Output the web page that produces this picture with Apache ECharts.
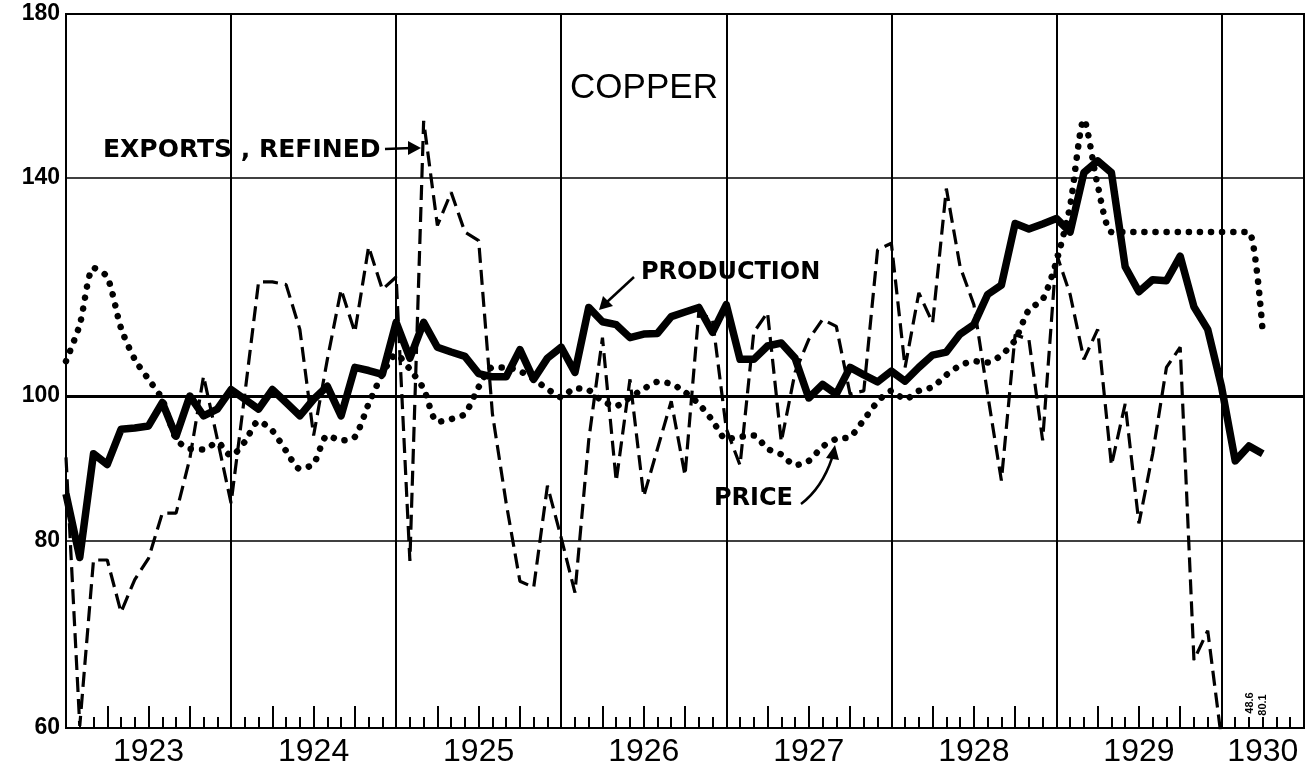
<!DOCTYPE html>
<html>
<head>
<meta charset="utf-8">
<title>Copper</title>
<script src="https://cdn.jsdelivr.net/npm/echarts@6/dist/echarts.min.js"></script>
<style>
  html, body { margin: 0; padding: 0; background: #fff; }
  #chart { width: 1314px; height: 768px; }
</style>
</head>
<body>
<div id="chart"></div>
<script>
// monthly slots, Jan 1923 .. Jul 1930 (the plot stops half way through 1930)
var years = [1923, 1924, 1925, 1926, 1927, 1928, 1929, 1930];
var months = [];
for (var y = 0; y < years.length; y++) {
  for (var m = 1; m <= 12; m++) {
    if (years[y] === 1930 && m > 7) break;
    months.push(years[y] + '-' + (m < 10 ? '0' + m : m));
  }
}

var yTicks = [60, 80, 100, 140, 180];

var production = [
  86, 78, 91.5, 90, 95, 95.2, 95.5, 99, 94, 100, 97, 98,
  101, 99.5, 98, 101, 99, 97, 99.5, 101.5, 97, 104.5, 104, 103.4,
  112, 106, 112, 107.8, 107, 106.3, 103.5, 103, 103, 107.4, 102.6, 106,
  107.8, 103.7, 114.6, 112.1, 111.6, 109.4, 110, 110.1, 113, 113.8, 114.6, 110.3,
  115.1, 105.8, 105.8, 108, 108.5, 106, 99.7, 101.8, 100.3, 104.5, 103.3, 102.2,
  103.9, 102.3, 104.5, 106.5, 107, 110, 111.6, 116.9, 118.6, 130.4, 129.3, 130.3,
  131.4, 128.7, 141, 143.6, 141, 122, 117.4, 119.6, 119.4, 124, 114.7, 110.8,
  101.5, 90.5, 92.6, 91.5
];

var exportsRefined = [
  91, 60.2, 77.7, 77.7, 71.7, 75.4, 77.9, 83.5, 83.5, 90.8, 103.1, 93.6,
  84.8, 100.3, 119.2, 119.2, 118.7, 110.8, 94.1, 105.8, 117.8, 110.3, 125.8, 117.8,
  120.1, 77.6, 152.7, 130, 136.8, 128.7, 127, 97.3, 84.8, 75.2, 74.5, 87.1,
  80.4, 73.9, 93.4, 109.4, 87.7, 102.6, 85.7, 92.2, 99.2, 88.5, 113.7, 112.5,
  95.1, 89.9, 110.3, 113.7, 93.2, 103.7, 109.1, 112.5, 111.3, 100.3, 100.8, 125.2,
  126.5, 104.5, 117.2, 111.9, 137.6, 122, 115.1, 100.3, 87.8, 109.9, 109.1, 93.4,
  124.5, 116.9, 105.8, 110.8, 89.9, 98.8, 82.2, 91.5, 104.5, 107.8, 66.6, 69.7,
  59
];

var price = [
  105.5, 111.6, 121.8, 120.1, 111, 105.8, 102.6, 99.5, 93.6, 92.2, 92.1, 93.1,
  91.2, 93.2, 96.2, 94.8, 91.9, 89.4, 90.1, 94.1, 93.4, 93.9, 98.8, 103.4,
  106.6, 104.2, 101.1, 96.1, 96.5, 97.3, 101.4, 104.5, 104.5, 103.9, 102.6, 101.1,
  99.8, 101.2, 100.9, 99.2, 98.5, 99.8, 101.1, 102.2, 101.9, 100.6, 98.8, 96.3,
  93.6, 93.9, 94.1, 92.2, 91.4, 89.9, 90.5, 92.5, 93.6, 93.9, 96.4, 99.1,
  100.8, 99.5, 100.8, 101.4, 103.3, 104.8, 105.5, 105.3, 106.5, 109, 114.2, 116,
  123, 134, 153, 138.3, 128.7, 128.7, 128.7, 128.7, 128.7, 128.7, 128.7, 128.7,
  128.7, 128.7, 128.7, 110.3
];

// off-scale notes printed at the foot of 1930
var footNotes = ['48.6', '80.1'];

var chart = echarts.init(document.getElementById('chart'));

var boldFont = '"DejaVu Sans", sans-serif';

var option = {
  backgroundColor: '#fff',
  animation: false,
  grid: {
    left: 66, right: 10, top: 14, bottom: 36,
    show: true, borderColor: '#000', borderWidth: 2
  },
  xAxis: [{
    type: 'category',
    data: months,
    boundaryGap: false,
    axisLine: { lineStyle: { color: '#000', width: 2 } },
    axisTick: {
      inside: true, length: 11, interval: 0,
      lineStyle: { color: '#000', width: 2 }
    },
    axisLabel: {
      interval: function (i) { return i % 12 === 6 || i === 87; },
      formatter: function (v) { return v.slice(0, 4); },
      color: '#000', fontSize: 32, fontFamily: '"Liberation Sans", Arial', margin: 8
    },
    splitLine: {
      show: true,
      interval: function (i) { return i % 12 === 0 && i > 0; },
      lineStyle: { color: '#000', width: 2 }
    }
  }, {
    type: 'category',
    data: months,
    boundaryGap: false,
    position: 'bottom',
    axisLine: { show: false },
    axisTick: {
      inside: true, length: 22,
      // 1930 quarter tick sits under the printed notes, keep it short there
      interval: function (i) { return i % 3 === 0 && i < 85; },
      lineStyle: { color: '#000', width: 2 }
    },
    axisLabel: { show: false },
    splitLine: { show: false }
  }],
  yAxis: {
    type: 'log',
    logBase: 10,
    min: 60,
    max: 180,
    axisLine: { show: false },
    axisTick: { show: false },
    axisLabel: { show: false },
    splitLine: { show: false }
  },
  series: [{
    name: 'grid',
    type: 'line',
    data: [],
    z: 1,
    markLine: {
      silent: true,
      symbol: ['none', 'none'],
      data: yTicks.map(function (v) {
        var edge = v === 60 || v === 180;
        return {
          yAxis: v,
          lineStyle: {
            color: edge ? 'rgba(0,0,0,0)' : '#000',
            type: 'solid',
            width: v === 100 ? 3 : 1.5
          }
        };
      }),
      label: {
        show: true,
        position: 'start',
        formatter: '{c}',
        color: '#000',
        fontSize: 23,
        fontWeight: 'bold',
        fontFamily: '"Liberation Sans", Arial',
        distance: 6
      }
    }
  }, {
    name: 'Exports, refined',
    type: 'line',
    data: exportsRefined,
    symbol: 'none',
    z: 3,
    lineStyle: { color: '#000', width: 3.2, type: [15, 7] }
  }, {
    name: 'Price',
    type: 'line',
    data: price,
    symbol: 'none',
    smooth: 0.25,
    z: 4,
    lineStyle: { color: '#000', width: 6.5, type: [0.1, 11], cap: 'round' }
  }, {
    name: 'Production',
    type: 'line',
    data: production,
    symbol: 'none',
    z: 5,
    lineStyle: { color: '#000', width: 7.5, join: 'round' }
  }],
  graphic: [
    {
      type: 'text', z: 10,
      style: { x: 644, y: 88, text: 'COPPER', textAlign: 'center', textVerticalAlign: 'middle',
        font: '35px "Liberation Sans", Arial', fill: '#000' }
    },
    {
      type: 'text', z: 10,
      style: { x: 103, y: 150, text: 'EXPORTS , REFINED', textAlign: 'left', textVerticalAlign: 'middle',
        font: 'bold 25px ' + boldFont, fill: '#000' }
    },
    {
      type: 'line', z: 10,
      shape: { x1: 385, y1: 149, x2: 412, y2: 148 },
      style: { stroke: '#000', lineWidth: 2.5 }
    },
    {
      type: 'polygon', z: 10,
      shape: { points: [[421, 148], [408, 141], [408, 155]] },
      style: { fill: '#000' }
    },
    {
      type: 'text', z: 10,
      style: { x: 641, y: 273, text: 'PRODUCTION', textAlign: 'left', textVerticalAlign: 'middle',
        font: 'bold 24px ' + boldFont, fill: '#000' }
    },
    {
      type: 'line', z: 10,
      shape: { x1: 634, y1: 277, x2: 607, y2: 302 },
      style: { stroke: '#000', lineWidth: 2.5 }
    },
    {
      type: 'polygon', z: 10,
      shape: { points: [[599, 310], [603, 296], [613, 306]] },
      style: { fill: '#000' }
    },
    {
      type: 'text', z: 10,
      style: { x: 714, y: 499, text: 'PRICE', textAlign: 'left', textVerticalAlign: 'middle',
        font: 'bold 24px ' + boldFont, fill: '#000' }
    },
    {
      type: 'bezierCurve', z: 10,
      shape: { x1: 801, y1: 504, cpx1: 822, cpy1: 488, x2: 832, y2: 458 },
      style: { stroke: '#000', lineWidth: 2.5, fill: 'none' }
    },
    {
      type: 'polygon', z: 10,
      shape: { points: [[835, 445], [826, 458], [839, 460]] },
      style: { fill: '#000' }
    },
    {
      type: 'text', z: 10, x: 1250, y: 703, rotation: Math.PI / 2,
      style: { x: 0, y: 0, text: footNotes[0], textAlign: 'center', textVerticalAlign: 'middle',
        font: 'bold 11px "Liberation Sans", Arial', fill: '#000' }
    },
    {
      type: 'text', z: 10, x: 1263, y: 705, rotation: Math.PI / 2,
      style: { x: 0, y: 0, text: footNotes[1], textAlign: 'center', textVerticalAlign: 'middle',
        font: 'bold 11px "Liberation Sans", Arial', fill: '#000' }
    }
  ]
};

chart.setOption(option);
</script>
</body>
</html>
